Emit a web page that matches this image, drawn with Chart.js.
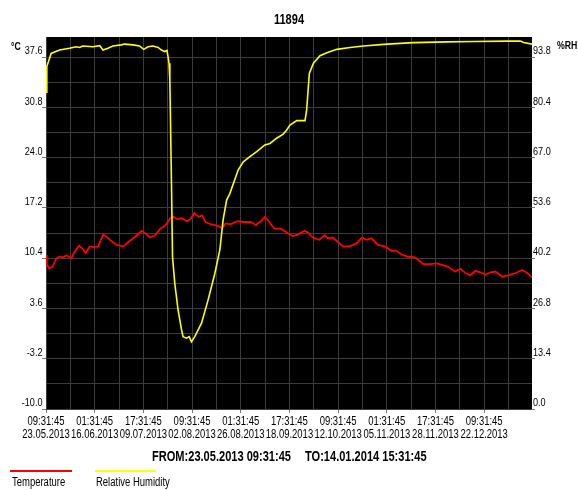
<!DOCTYPE html>
<html>
<head>
<meta charset="utf-8">
<script src="https://cdn.jsdelivr.net/npm/chart.js@4/dist/chart.umd.min.js"></script>
<style>
  body { margin: 0; background: #fff; }
  #wrap { position: relative; width: 578px; height: 490px; }
</style>
</head>
<body>
<div id="wrap">
  <canvas id="chart1" width="578" height="490"></canvas>
</div>
<script>
// days since 23.05.2013 09:31:45
const tempDays = [0, 0.4, 1.7, 3.3, 5.0, 6.6, 8.2, 9.9, 12.3, 14.0, 16.1, 17.7, 19.3, 21.3, 23.2, 25.3, 27.8, 29.4, 31.9, 34.3,
    37.6, 40.0, 43.3, 46.5, 49.0, 50.6, 53.0, 55.5, 57.9, 60.4, 62.0, 63.7, 66.1, 68.5, 70.2, 72.1, 74.2, 75.9, 77.5, 80.0,
    83.2, 85.7, 87.3, 89.7, 93.0, 96.3, 99.5, 102.0, 104.4, 106.4, 108.5, 110.9, 114.2, 117.4, 119.9, 122.3, 125.6, 127.2, 129.7, 132.9,
    135.4, 137.0, 139.4, 141.9, 144.3, 147.6, 150.9, 153.6, 155.7, 158.2, 161.4, 164.7, 168.0, 170.4, 172.9, 176.1, 179.4, 183.5, 186.7, 190.0,
    192.4, 194.9, 199.0, 201.4, 203.8, 206.3, 208.7, 211.2, 213.6, 216.1, 218.5, 221.8, 225.0, 228.3, 231.5, 234.0, 236.25];
const tempValues = [10.8, 9.5, 9.0, 9.3, 10.4, 10.6, 10.5, 10.8, 10.4, 11.3, 12.1, 11.7, 11.1, 12.0, 11.9, 12.0, 13.6, 13.3, 12.7, 12.2,
    12.0, 12.6, 13.3, 14.1, 13.6, 13.2, 13.5, 14.4, 14.8, 15.8, 16.0, 15.7, 15.8, 15.4, 15.7, 16.5, 16.0, 16.2, 15.3, 15.0,
    14.8, 14.5, 15.1, 15.0, 15.4, 15.3, 15.3, 14.9, 15.4, 16.0, 15.3, 14.4, 14.4, 13.8, 13.4, 13.6, 14.1, 13.9, 13.2, 12.9,
    13.5, 13.1, 13.2, 12.6, 12.0, 12.0, 12.4, 13.2, 12.9, 13.1, 12.2, 12.0, 11.4, 11.4, 10.9, 10.6, 10.5, 9.6, 9.6, 9.7,
    9.5, 9.3, 8.6, 9.0, 8.4, 8.1, 8.7, 8.5, 8.2, 8.5, 8.6, 7.9, 8.1, 8.4, 8.8, 8.4, 7.8];

const rhDays = [0, 0.4, 2.5, 6.6, 11.4, 14.7, 16.3, 17.9, 22.8, 26.1, 27.7, 30.1, 32.5, 36.6, 38.2, 42.3, 45.5, 47.5, 49.6, 52.0,
    54.5, 56.1, 57.7, 58.8, 59.3, 59.8, 60.2, 61.0, 61.5, 62.6, 64.2, 65.9, 66.6, 68.3, 69.6, 70.7, 72.3, 75.6, 78.8, 82.1,
    84.5, 86.1, 87.8, 89.4, 93.4, 95.9, 99.1, 102.4, 106.4, 108.9, 112.1, 115.3, 117.0, 118.6, 121.0, 121.9, 125.9, 126.7, 128.0, 130.0,
    133.2, 136.5, 141.4, 147.8, 154.3, 165.7, 178.7, 194.9, 207.9, 224.2, 230.6, 232.2, 236.25];
const rhValues = [84.5, 91.3, 94.8, 95.7, 96.2, 96.6, 96.4, 96.8, 96.6, 96.9, 95.7, 96.2, 96.8, 97.1, 97.3, 97.1, 96.8, 95.9, 96.6, 96.8,
    96.4, 95.7, 95.3, 95.6, 94.0, 92.2, 87.7, 60.0, 40.6, 33.5, 26.4, 21.1, 19.3, 18.9, 19.3, 17.9, 19.3, 22.9, 29.1, 36.2,
    42.4, 50.4, 55.7, 57.5, 63.7, 65.9, 67.3, 68.6, 70.4, 70.8, 72.2, 73.3, 74.4, 75.7, 76.6, 76.9, 76.9, 79.7, 89.5, 92.2,
    94.2, 95.0, 95.9, 96.4, 96.8, 97.3, 97.7, 97.9, 98.0, 98.1, 98.1, 97.7, 97.3];

const tempTicks = [-10.0, -6.6, -3.2, 0.2, 3.6, 7.0, 10.4, 13.8, 17.2, 20.6, 24.0, 27.4, 30.8, 34.2, 37.6];
const rhTicks = [0, 6.7, 13.4, 20.1, 26.8, 33.5, 40.2, 46.9, 53.6, 60.3, 67.0, 73.7, 80.4, 87.1, 93.8];
const timeLabels = [
    ['09:31:45', '23.05.2013'], ['01:31:45', '16.06.2013'], ['17:31:45', '09.07.2013'], ['09:31:45', '02.08.2013'],
    ['01:31:45', '26.08.2013'], ['17:31:45', '18.09.2013'], ['09:31:45', '12.10.2013'], ['01:31:45', '05.11.2013'],
    ['17:31:45', '28.11.2013'], ['09:31:45', '22.12.2013']];

const stepDays = 284 / 24; // grid every 11 days 20 hours
const endDays = 236.25;

function toPoints(xs, ys) {
    let pts = [];
    for (let i = 0; i < xs.length; i++) pts.push({ x: xs[i], y: ys[i] });
    return pts;
}

function tickMark(c) {
    return c.index % 2 === 0 ? '#7a7a7a' : 'rgba(0,0,0,0)';
}

// no narrow font installed, so squeeze Liberation Sans horizontally
const SX = 0.79;
function narrowText(ctx, text, x, y, align, font) {
    ctx.save();
    ctx.translate(x, y);
    ctx.scale(SX, 1);
    ctx.font = font;
    ctx.fillStyle = '#000';
    ctx.textAlign = align;
    ctx.textBaseline = 'middle';
    ctx.fillText(text, 0, 0);
    ctx.restore();
}

const blackArea = {
    id: 'blackArea',
    beforeDraw(chart) {
        const a = chart.chartArea;
        chart.ctx.save();
        chart.ctx.fillStyle = '#000';
        chart.ctx.fillRect(a.left, a.top, a.right - a.left, a.bottom - a.top);
        chart.ctx.restore();
    }
};

const labelsPlugin = {
    id: 'labelsPlugin',
    afterDraw(chart) {
        const c = chart.ctx;
        const tickFont = "11.5px 'Liberation Sans', Arial, sans-serif";
        const yl = chart.scales.yL, yr = chart.scales.yR, x = chart.scales.x;
        for (let i = 0; i < tempTicks.length; i += 2) {
            narrowText(c, tempTicks[i].toFixed(1), 42.5, yl.getPixelForValue(tempTicks[i]) - 6, 'right', tickFont);
        }
        for (let i = 0; i < rhTicks.length; i += 2) {
            narrowText(c, rhTicks[i].toFixed(1), 533, yr.getPixelForValue(rhTicks[i]) - 6, 'left', tickFont);
        }
        const xFont = "12px 'Liberation Sans', Arial, sans-serif";
        for (let i = 0; i < timeLabels.length; i++) {
            const px = x.getPixelForValue(i * 2 * stepDays);
            narrowText(c, timeLabels[i][0], px, 422, 'center', xFont);
            narrowText(c, timeLabels[i][1], px, 434.5, 'center', xFont);
        }
        narrowText(c, '11894', 289, 20, 'center', "bold 14px 'Liberation Sans', Arial, sans-serif");
        narrowText(c, '°C', 11, 47, 'left', "bold 11px 'Liberation Sans', Arial, sans-serif");
        narrowText(c, '%RH', 557, 46, 'left', "bold 11px 'Liberation Sans', Arial, sans-serif");
        narrowText(c, 'FROM:23.05.2013 09:31:45', 152, 457, 'left', "bold 14px 'Liberation Sans', Arial, sans-serif");
        narrowText(c, 'TO:14.01.2014 15:31:45', 305, 457, 'left', "bold 14px 'Liberation Sans', Arial, sans-serif");
        // legend
        const ds = chart.data.datasets;
        c.save();
        c.fillStyle = ds[1].borderColor;
        c.fillRect(10, 470, 62, 2);
        c.fillStyle = ds[0].borderColor;
        c.fillRect(95, 470, 61, 2);
        c.restore();
        narrowText(c, ds[1].label, 12, 483, 'left', "12px 'Liberation Sans', Arial, sans-serif");
        narrowText(c, ds[0].label, 96, 483, 'left', "12px 'Liberation Sans', Arial, sans-serif");
    }
};

const ctx = document.getElementById('chart1');
new Chart(ctx, {
    type: 'line',
    data: {
        datasets: [{
            label: 'Relative Humidity',
            data: toPoints(rhDays, rhValues),
            borderColor: '#ffff00',
            borderWidth: 1.6,
            pointRadius: 0,
            tension: 0,
            yAxisID: 'yR'
        }, {
            label: 'Temperature',
            data: toPoints(tempDays, tempValues),
            borderColor: '#ff0000',
            borderWidth: 1.8,
            pointRadius: 0,
            tension: 0,
            yAxisID: 'yL'
        }]
    },
    options: {
        responsive: false,
        animation: { duration: 0 },
        layout: { padding: { top: 37, left: 0, right: 0, bottom: 0 } },
        plugins: { legend: { display: false }, tooltip: { enabled: false } },
        scales: {
            x: {
                type: 'linear',
                min: 0,
                max: endDays,
                afterBuildTicks: (s) => {
                    let t = [];
                    for (let i = 0; i * stepDays < endDays - 1; i++) t.push({ value: i * stepDays });
                    s.ticks = t;
                },
                afterFit: (s) => { s.height = 81; },
                border: { display: false },
                grid: { color: '#3c3c3c', borderDash: [3, 2], tickColor: tickMark, tickLength: 4, tickWidth: 1 },
                ticks: { display: false }
            },
            yL: {
                type: 'linear',
                position: 'left',
                min: -10,
                max: 40.33,
                afterBuildTicks: (s) => { s.ticks = tempTicks.map(v => ({ value: v })); },
                afterFit: (s) => { s.width = 46; },
                border: { display: false },
                grid: { color: '#3c3c3c', tickColor: tickMark, tickLength: 4 },
                ticks: { display: false }
            },
            yR: {
                type: 'linear',
                position: 'right',
                min: 0,
                max: 99.19,
                afterBuildTicks: (s) => { s.ticks = rhTicks.map(v => ({ value: v })); },
                afterFit: (s) => { s.width = 46; },
                border: { display: false },
                grid: { drawOnChartArea: false, tickColor: tickMark, tickLength: 3 },
                ticks: { display: false }
            }
        }
    },
    plugins: [blackArea, labelsPlugin]
});
</script>
</body>
</html>
